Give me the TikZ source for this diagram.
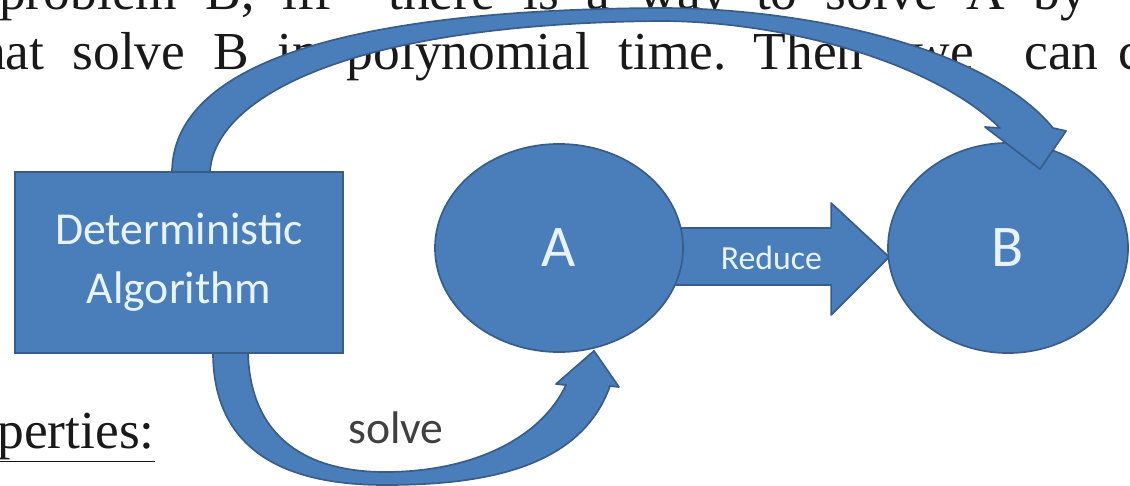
\documentclass[tikz,border=0pt]{standalone}
\usepackage{fontspec}
\setmainfont{Liberation Serif}
\newfontfamily\calibri{Carlito}
\usetikzlibrary{shapes.geometric}
\usetikzlibrary{calc}
\usetikzlibrary{backgrounds}
\usetikzlibrary{positioning}
\pgfdeclarelayer{front}
\pgfsetlayers{background,main,front}
\definecolor{slideblue}{HTML}{4A7EBB}
\definecolor{edgeblue}{HTML}{385D8A}
\definecolor{lighttext}{HTML}{E8F3FF}
\definecolor{labelgray}{HTML}{404040}

\begin{document}
\begin{tikzpicture}[
    x=0.025cm, y=-0.025cm,
    blob/.style={ellipse, fill=slideblue, draw=edgeblue, line width=1.2pt, inner sep=0pt,
        text=lighttext, font=\calibri\fontsize{42}{42}\selectfont},
    algbox/.style={rectangle, fill=slideblue, draw=edgeblue, line width=1.5pt,
        text=lighttext, align=center, font=\calibri\fontsize{32.5}{42}\selectfont},
    band/.style={fill=slideblue, draw=edgeblue, line width=1.2pt, line join=round},
    slidetext/.style={font=\fontsize{38}{38}\selectfont, inner sep=0pt, text=black!90},
]
\useasboundingbox (0,0) rectangle (1130,486);
% === Slide text behind the diagram ===
\begin{scope}
\clip (0,0) rectangle (1130,486);
\node[slidetext, anchor=base east] (line1) at (1087,10)
    {\spaceskip=20pt\relax problem B, iff\ \ there is a way to solve A by};
\node[slidetext, anchor=base west] (line2) at (-36,70)
    {\spaceskip=20pt\relax that solve B in polynomial time.\hspace{-4pt} Then\hspace{14pt} we\hspace{16pt} can\hspace{-6pt} conclude};
\node[slidetext, anchor=base east] (props) at (155,448) {\underline{Properties:}};
\end{scope}
% === Algorithm box (on top of the arc feet) ===
\begin{pgfonlayer}{front}
\node[algbox, minimum width=8.2cm, minimum height=4.525cm] (alg) at (179,262.5)
    {Deterministic\\Algorithm};
\end{pgfonlayer}
% === Problems ===
\node[blob, minimum width=6.2cm, minimum height=5.2cm] (A) at (559,248) {A};
\node[blob, minimum width=6cm, minimum height=5.25cm] (B) at (1008,248) {B};
% Reduce: block arrow A -> B
\begin{scope}[on background layer]
\draw[band] ($(A.east)+(-12,-20)$) -- ($(B.west)+(-56,-20)$) -- ($(B.west)+(-56,-45)$)
    -- ($(B.west)+(2,9)$) -- ($(B.west)+(-56,67)$) -- ($(B.west)+(-56,37)$)
    -- ($(A.east)+(-12,37)$) -- cycle;
\end{scope}
\node[font=\calibri\fontsize{24}{24}\selectfont, text=lighttext] (reduce)
    at ($(A.east)!0.43!(B.west)+(0,10)$) {Reduce};
% Big arc: algorithm -> B
\draw[band] ($(alg.north)+(-7,2)$) .. controls (172,80) and (300,10) .. (660,8)
    .. controls (800,8) and (985,45) .. (1053,128) -- (1066,131)
    -- ($(B.north)+(32,27)$) -- (985,127) -- (1000,128)
    .. controls (930,60) and (780,21) .. (660,21)
    .. controls (330,24) and (212,105) .. ($(alg.north)+(31,2)$) -- cycle;
% Lower arc: algorithm -> A
\draw[band] ($(alg.south)+(69,-2)$) .. controls (250,440) and (310,472) .. (385,472)
    .. controls (470,472) and (540,440) .. (566,385) -- (556,384)
    -- ($(A.south)+(35,-2)$) -- (619,387) -- (610,386)
    .. controls (580,470) and (480,485) .. (385,485)
    .. controls (270,485) and (213,440) .. ($(alg.south)+(34,-2)$) -- cycle;
\node[font=\calibri\fontsize{32.5}{32.5}\selectfont, text=labelgray] (solvelbl) at (396,428) {solve};
\end{tikzpicture}
\end{document}
